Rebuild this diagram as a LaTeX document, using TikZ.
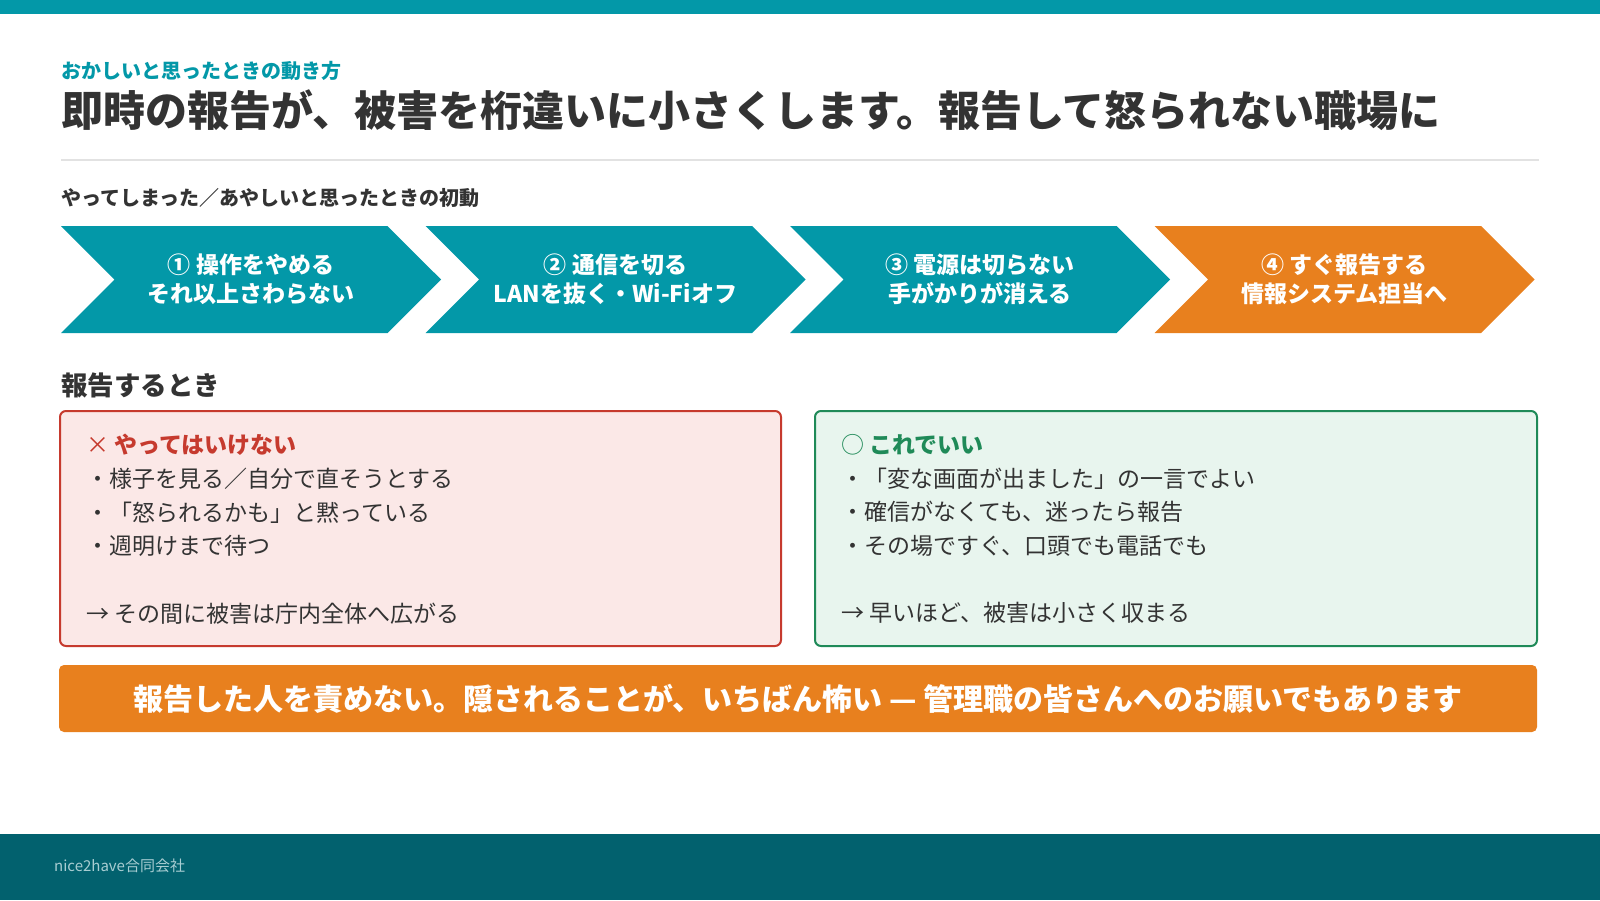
\documentclass[tikz,border=0pt]{standalone}
\usepackage{fontspec}
\setmainfont{Noto Sans CJK JP}
\usepackage{xcolor}
\usetikzlibrary{shapes.symbols,positioning}

\definecolor{brandteal}{HTML}{0398A8}
\definecolor{footteal}{HTML}{02616E}
\definecolor{footgray}{HTML}{A8CDD2}
\definecolor{actorange}{HTML}{E8801E}
\definecolor{inkgray}{HTML}{333333}
\definecolor{rulegray}{HTML}{E2E2E2}
\definecolor{ngred}{HTML}{C63A2E}
\definecolor{ngfill}{HTML}{FBE8E7}
\definecolor{okgreen}{HTML}{1F8A58}
\definecolor{okfill}{HTML}{E8F5EE}

\begin{document}
\begin{tikzpicture}[
  x=1pt, y=-1pt,
  every node/.style={inner sep=0pt, text=inkgray},
  kicker/.style={anchor=west, text=brandteal, font=\fontsize{20}{24}\bfseries\selectfont},
  headline/.style={anchor=west, font=\fontsize{42}{50}\bfseries\selectfont},
  section/.style={anchor=west, font=\fontsize{20}{24}\bfseries\selectfont},
  chev/.style={signal, signal from=west, signal to=east, fill=brandteal,
               minimum width=380pt, minimum height=107pt, align=center, text=white,
               font=\fontsize{23}{29}\bfseries\selectfont},
  panel/.style={rectangle, rounded corners=6pt, line width=2pt, minimum height=235pt},
  listtext/.style={anchor=north west, align=left, font=\fontsize{23}{33.7}\selectfont}
]
  \useasboundingbox (0,0) rectangle (1600,900);
  \fill[white] (0,0) rectangle (1600,900);
  \fill[brandteal] (0,0) rectangle (1600,14);
  \fill[footteal] (0,834) rectangle (1600,900);

  % header
  \node[kicker]   (kick)  at (61,71)  {おかしいと思ったときの動き方};
  \node[headline] (title) at (61,110) {即時の報告が、被害を桁違いに小さくします。報告して怒られない職場に};
  \draw[rulegray, line width=1.5pt] (61,160) -- (1539,160);

  % first moves
  \node[section] (first) at (61,198) {やってしまった／あやしいと思ったときの初動};
  \node[chev] (c1) at (251,279.5)   {① 操作をやめる\\それ以上さわらない};
  \node[chev] (c2) at (615.5,279.5) {② 通信を切る\\LANを抜く・Wi-Fiオフ};
  \node[chev] (c3) at (980,279.5)   {③ 電源は切らない\\手がかりが消える};
  \node[chev, fill=actorange] (c4) at (1344.5,279.5) {④ すぐ報告する\\情報システム担当へ};

  % when reporting
  \node[section, font=\fontsize{26.5}{32}\bfseries\selectfont] (report) at (61,385) {報告するとき};
  \node[panel, draw=ngred, fill=ngfill, minimum width=721pt]  (ng) at (420.5,528.5) {};
  \node[panel, draw=okgreen, fill=okfill, minimum width=722pt] (ok) at (1176,528.5) {};

  \node[listtext] (nglist) at (86,434) {%
    {\color{ngred}×\ \bfseries やってはいけない}\\
    ・様子を見る／自分で直そうとする\\
    ・「怒られるかも」と黙っている\\
    ・週明けまで待つ\\[33.7pt]
    → その間に被害は庁内全体へ広がる};
  \node[listtext] (oklist) at (841,434) {%
    {\color{okgreen}○\ \bfseries これでいい}\\
    ・「変な画面が出ました」の一言でよい\\
    ・確信がなくても、迷ったら報告\\
    ・その場ですぐ、口頭でも電話でも\\[33.7pt]
    → 早いほど、被害は小さく収まる};

  % closing message
  \node[rectangle, rounded corners=5pt, fill=actorange, minimum width=1478pt, minimum height=67pt,
        text=white, font=\fontsize{30}{36}\bfseries\selectfont] (ask) at (798,698.5)
        {報告した人を責めない。隠されることが、いちばん怖い — 管理職の皆さんへのお願いでもあります};

  \node[anchor=west, text=footgray, font=\fontsize{15}{18}\selectfont] (brand) at (54,866) {nice2have合同会社};
\end{tikzpicture}
\end{document}
